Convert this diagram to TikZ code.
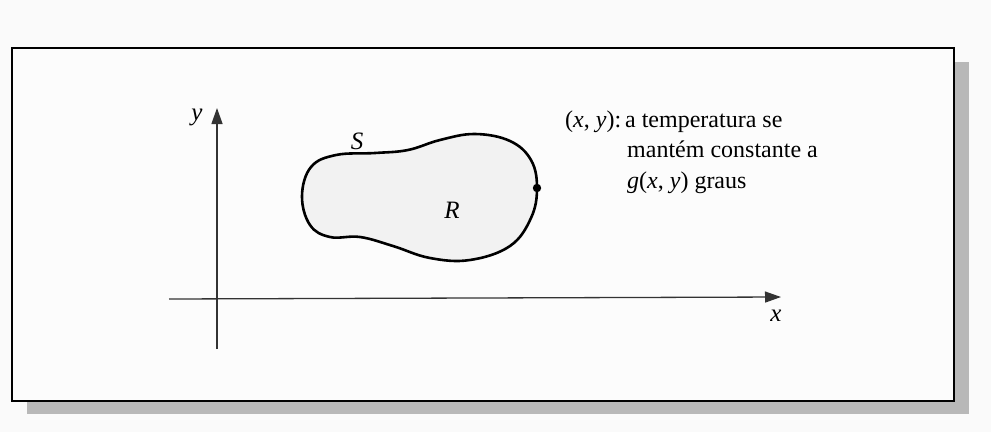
\documentclass[tikz,border=0pt]{standalone}
\usepackage{fontspec}
\setmainfont{Liberation Serif}
\usetikzlibrary{arrows.meta}
\begin{document}
\begin{tikzpicture}[x=1pt,y=-1pt,
  axis/.style={draw=black!80,line width=1.3pt,-{Triangle[length=16pt,width=11pt]}},
  lbl/.style={font=\fontsize{25}{30}\selectfont\itshape,inner sep=0pt},
  txt/.style={font=\fontsize{24}{30}\selectfont,inner sep=0pt,anchor=base west}]
\useasboundingbox (0,0) rectangle (991,432);
\fill[black!2] (0,0) rectangle (991,432);
% shadow
\fill[black!28] (27,62) rectangle (969,414);
% frame
\draw[fill=white!99!black,line width=2.2pt] (12,48) rectangle (954,401);
% axes
\coordinate (xs) at (169,299);
\coordinate (xe) at (781,297);
\coordinate (ys) at (217,349);
\coordinate (ye) at (217,108);
\draw[axis] (xs) -- (xe);
\draw[axis] (ys) -- (ye);
\node[lbl] (xl) at (776,316) {x};
\node[lbl] (yl) at (197,117) {y};
% region
\draw[line width=2.6pt,fill=black!5] plot[smooth cycle,tension=0.65] coordinates {
 (302,196) (311,167) (336,155) (375,153) (408,150) (440,140) (475,134)
 (510,141) (531,160) (537,188) (531,218) (510,246) (470,260) (430,258)
 (393,246) (360,237) (330,237) (310,225)};
\fill (537,188) circle (4.2pt);
\node[lbl] (S) at (357,141) {S};
\node[lbl] (R) at (452,210) {R};
% text
\node[txt] (t1) at (565,127) {(\textit{x}, \textit{y}):\,a temperatura se};
\node[txt] (t2) at (627,157) {mantém constante a};
\node[txt] (t3) at (627,188) {\textit{g}(\textit{x}, \textit{y}) graus};
\end{tikzpicture}
\end{document}
